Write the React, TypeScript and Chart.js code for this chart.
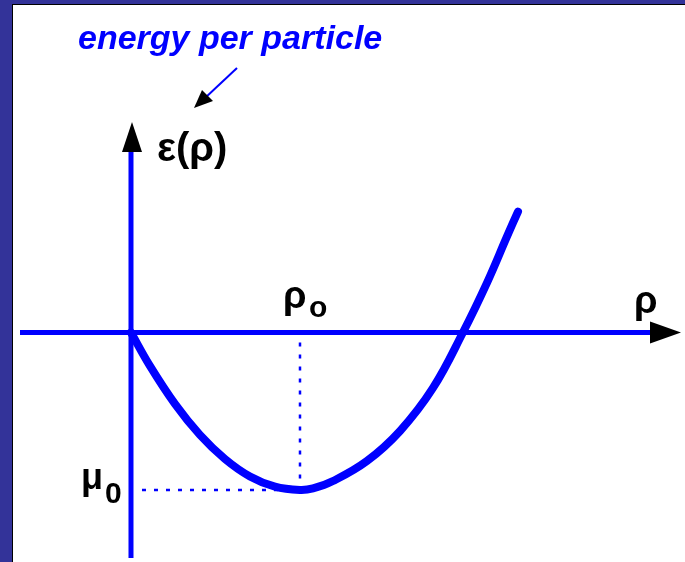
import React, { useEffect, useRef } from "react";
import { Chart, registerables } from "chart.js";

Chart.register(...registerables);

// density in units of rho0, energy per particle in units of |mu0|
const rho = [0, 0.112, 0.26, 0.408, 0.556, 0.704, 0.852, 1.0, 1.077, 1.195, 1.396, 1.592, 1.787, 1.964, 2.107, 2.225, 2.29];
const eps = [0, -0.212, -0.453, -0.65, -0.803, -0.914, -0.979, -1.0, -0.99, -0.943, -0.816, -0.625, -0.352, 0, 0.317, 0.61, 0.768];
const rho0 = 1.0;
const mu0 = -1.0;

const titleText = "energy per particle";
const yLabel = "ε(ρ)";
const xLabel = "ρ";
const rhoLabel = "ρ";
const rhoSub = "o";
const muLabel = "μ";
const muSub = "0";

const BLUE = "#0000ff";
const FONT = "'Liberation Sans', Arial, sans-serif";

function tri(ctx: CanvasRenderingContext2D, pts: number[][]) {
  ctx.beginPath();
  ctx.moveTo(pts[0][0], pts[0][1]);
  ctx.lineTo(pts[1][0], pts[1][1]);
  ctx.lineTo(pts[2][0], pts[2][1]);
  ctx.closePath();
  ctx.fill();
}

const decor = {
  id: "decor",
  beforeDraw(chart: any) {
    const ctx = chart.ctx as CanvasRenderingContext2D;
    const w = chart.width, h = chart.height;
    ctx.save();
    ctx.fillStyle = "#333399";
    ctx.fillRect(0, 0, w, h);
    ctx.fillStyle = "#000000";
    ctx.fillRect(12, 4, w - 12, h - 4);
    ctx.fillStyle = "#ffffff";
    ctx.fillRect(13, 5, w - 13, h - 5);
    ctx.restore();
  },
  beforeDatasetsDraw(chart: any) {
    const ctx = chart.ctx as CanvasRenderingContext2D;
    const xs = chart.scales.x, ys = chart.scales.y;
    const x0 = xs.getPixelForValue(0), y0 = ys.getPixelForValue(0);
    const xr = xs.getPixelForValue(rho0), ym = ys.getPixelForValue(mu0);
    ctx.save();
    // dotted guides
    ctx.strokeStyle = BLUE;
    ctx.lineWidth = 2.5;
    ctx.setLineDash([4, 8]);
    ctx.beginPath();
    ctx.moveTo(x0 + 11, ym);
    ctx.lineTo(xr - 8, ym);
    ctx.moveTo(xr, y0 + 10);
    ctx.lineTo(xr, ym - 4);
    ctx.stroke();
    ctx.setLineDash([]);
    // axes
    ctx.lineWidth = 5;
    ctx.beginPath();
    ctx.moveTo(20, y0);
    ctx.lineTo(652, y0);
    ctx.moveTo(x0, 150);
    ctx.lineTo(x0, 558);
    ctx.stroke();
    ctx.restore();
  },
  afterDatasetsDraw(chart: any) {
    const ctx = chart.ctx as CanvasRenderingContext2D;
    const xs = chart.scales.x, ys = chart.scales.y;
    const x0 = xs.getPixelForValue(0), y0 = ys.getPixelForValue(0);
    const xr = xs.getPixelForValue(rho0), ym = ys.getPixelForValue(mu0);
    ctx.save();
    ctx.fillStyle = "#000000";
    // axis arrowheads
    tri(ctx, [[x0 + 1, 122], [x0 - 9, 152], [x0 + 11, 152]]);
    tri(ctx, [[681, y0], [650, y0 - 11], [650, y0 + 11]]);
    // title arrow
    ctx.strokeStyle = BLUE;
    ctx.lineWidth = 2;
    ctx.beginPath();
    ctx.moveTo(237, 68);
    ctx.lineTo(205, 98);
    ctx.stroke();
    ctx.fillStyle = "#000000";
    tri(ctx, [[194, 108], [202, 90], [213, 101]]);
    // title
    ctx.fillStyle = BLUE;
    ctx.font = `italic bold 34px ${FONT}`;
    ctx.textBaseline = "alphabetic";
    ctx.textAlign = "left";
    ctx.fillText(titleText, 78, 49);
    // labels
    ctx.fillStyle = "#000000";
    ctx.font = `bold 40px ${FONT}`;
    ctx.fillText(yLabel, 157, 161);
    ctx.font = `bold 38px ${FONT}`;
    ctx.fillText(xLabel, 634, 313);
    ctx.fillText(rhoLabel, xr - 17, 308);
    ctx.font = `bold 30px ${FONT}`;
    ctx.fillText(rhoSub, xr + 9, 317);
    ctx.font = `bold 36px ${FONT}`;
    ctx.fillText(muLabel, 81, ym - 1);
    ctx.font = `bold 30px ${FONT}`;
    ctx.fillText(muSub, 105, ym + 13);
    ctx.restore();
  },
};

export default function App() {
  const ref = useRef<HTMLCanvasElement | null>(null);
  useEffect(() => {
    if (!ref.current) return;
    const chart = new Chart(ref.current, {
      type: "line",
      data: {
        datasets: [
          {
            data: rho.map((r, i) => ({ x: r, y: eps[i] })),
            borderColor: BLUE,
            borderWidth: 8,
            borderCapStyle: "round",
            borderJoinStyle: "round",
            pointRadius: 0,
            tension: 0.4,
            fill: false,
            clip: false,
          } as any,
        ],
      },
      options: {
        animation: false,
        responsive: false,
        layout: { padding: 0 },
        plugins: { legend: { display: false }, tooltip: { enabled: false } },
        events: [],
        scales: {
          x: { type: "linear", display: false, min: -0.7751, max: 3.2781 },
          y: { type: "linear", display: false, min: -1.4571, max: 2.1111 },
        },
      },
      plugins: [decor],
    });
    return () => chart.destroy();
  }, []);
  return (
    <div style={{ position: "fixed", left: 0, top: 0, width: 685, height: 562 }}>
      <canvas ref={ref} width={685} height={562} style={{ display: "block" }} />
    </div>
  );
}
